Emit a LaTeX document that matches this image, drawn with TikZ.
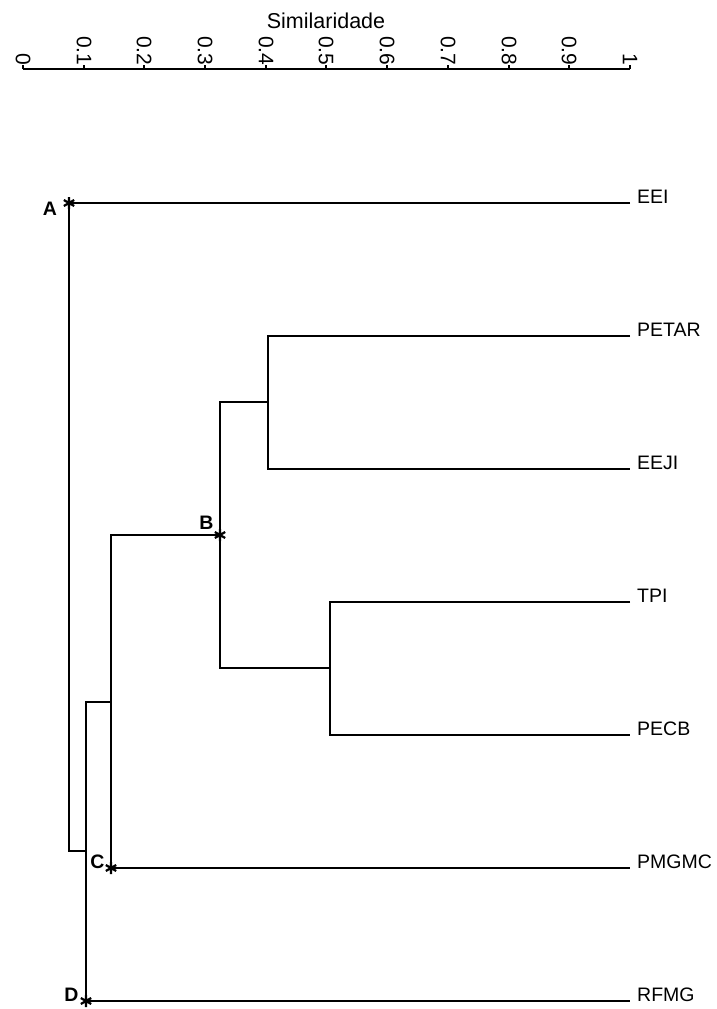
\documentclass[tikz,border=0pt]{standalone}
\usepackage{fontspec}
\setmainfont{Liberation Sans}
\begin{document}
\begin{tikzpicture}[x=1pt,y=-1pt,
  branch/.style={line width=2pt},
  axisline/.style={line width=1.6pt},
  leaflabel/.style={anchor=base west, inner sep=0pt, font=\fontsize{19.5}{22}\selectfont},
  ticklabel/.style={rotate=-90, anchor=east, inner sep=0pt, font=\fontsize{21}{23}\selectfont},
  titlelabel/.style={anchor=base, inner sep=0pt, font=\fontsize{21.5}{24}\selectfont},
  grouplabel/.style={inner sep=0pt, font=\fontsize{19.5}{22}\selectfont\bfseries},
  starmark/.pic={\draw[line width=2.2pt] (0,-6)--(0,6) (-5.2,-3)--(5.2,3) (-5.2,3)--(5.2,-3);}
]
\useasboundingbox (0,0) rectangle (716,1009);

% similarity axis
\node[titlelabel] (title) at (326,28) {Similaridade};
\coordinate (ax0) at (23,69);
\coordinate (ax1) at (630,69);
\draw[axisline] (ax0) -- (ax1);
\foreach \i/\lab in {0/0,1/0.1,2/0.2,3/0.3,4/0.4,5/0.5,6/0.6,7/0.7,8/0.8,9/0.9,10/1} {
  \pgfmathsetmacro\xx{round(23+60.7*\i)}
  \draw[axisline] (\xx,69) -- (\xx,64.5);
  \node[ticklabel] (t\i) at (\xx,65.5) {\lab};
}

% leaf ends (similarity 1)
\coordinate (eEEI)   at (630,203);
\coordinate (ePETAR) at (630,336);
\coordinate (eEEJI)  at (630,469);
\coordinate (eTPI)   at (630,602);
\coordinate (ePECB)  at (630,735);
\coordinate (ePMGMC) at (630,868);
\coordinate (eRFMG)  at (630,1001);

\node[leaflabel] (lEEI)   at (637,203)  {EEI};
\node[leaflabel] (lPETAR) at (637,336)  {PETAR};
\node[leaflabel] (lEEJI)  at (637,469)  {EEJI};
\node[leaflabel] (lTPI)   at (637,602)  {TPI};
\node[leaflabel] (lPECB)  at (637,735)  {PECB};
\node[leaflabel] (lPMGMC) at (637,868)  {PMGMC};
\node[leaflabel] (lRFMG)  at (637,1001) {RFMG};

% internal junctions
\coordinate (m1) at (268,402);
\coordinate (m2) at (330,668);
\coordinate (jB) at (220,535);
\coordinate (jC) at (111,702);
\coordinate (jD) at (86,851);
\coordinate (jA) at (69,527);

\draw[branch] (ePETAR) -| (m1) |- (eEEJI);
\draw[branch] (eTPI) -| (m2) |- (ePECB);
\draw[branch] (m1) -| (jB) |- (m2);
\draw[branch] (jB) -| (jC) |- (ePMGMC);
\draw[branch] (jC) -| (jD) |- (eRFMG);
\draw[branch] (eEEI) -| (jA) |- (jD);

% marked groups
\coordinate (sA) at (69,203);
\coordinate (sB) at (220,535);
\coordinate (sC) at (111,868);
\coordinate (sD) at (86,1001);
\pic at (sA) {starmark};
\pic at (sB) {starmark};
\pic at (sC) {starmark};
\pic at (sD) {starmark};
\node[grouplabel] (gA) at (50,209)    {A};
\node[grouplabel] (gB) at (206.5,523) {B};
\node[grouplabel] (gC) at (97.5,862)  {C};
\node[grouplabel] (gD) at (71.5,994.5){D};
\end{tikzpicture}
\end{document}
